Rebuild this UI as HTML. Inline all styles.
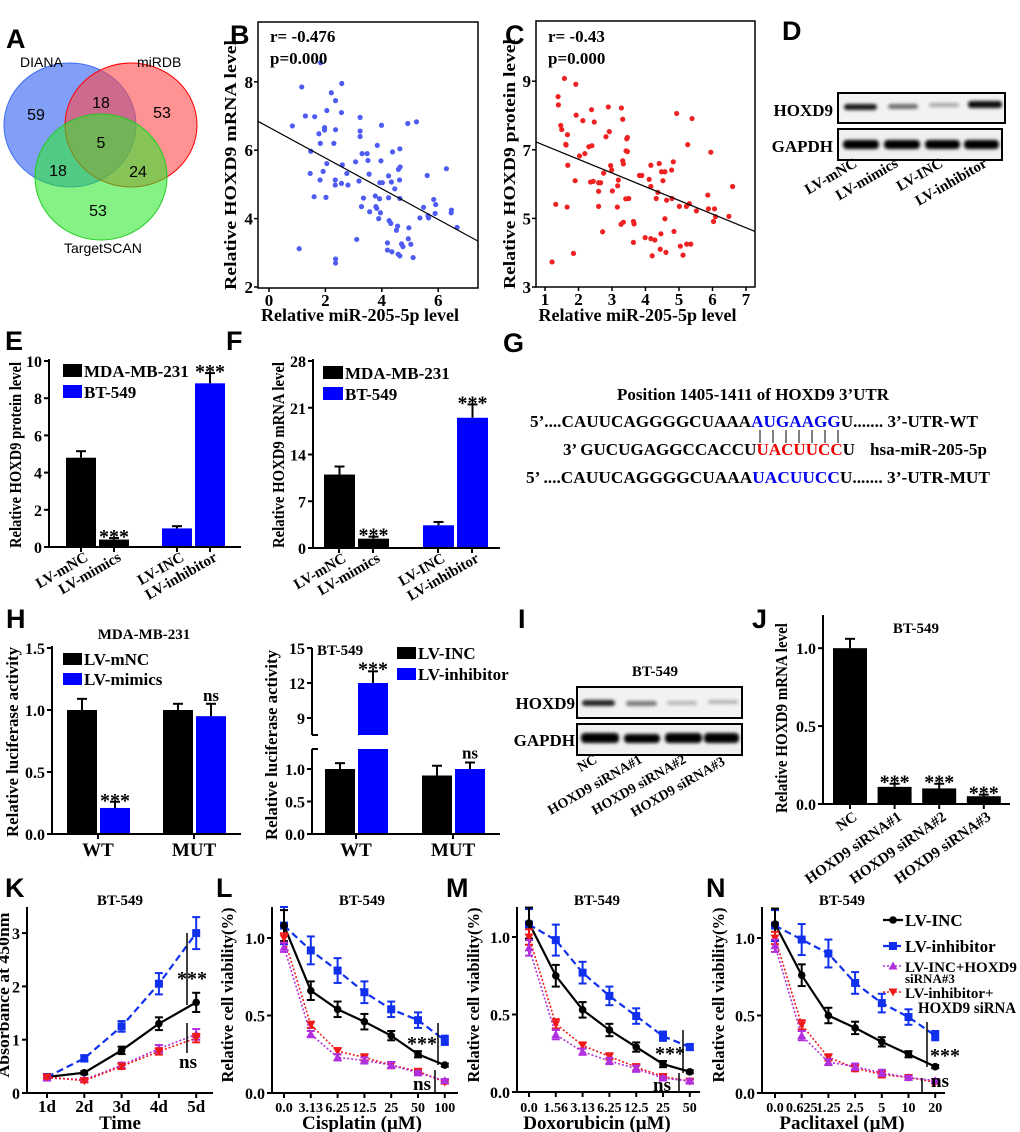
<!DOCTYPE html>
<html><head><meta charset="utf-8">
<style>
html,body{margin:0;padding:0;background:#fff;}
svg{display:block;}
text{font-family:"Liberation Serif",serif;font-weight:bold;fill:#000;}
text.sans{font-family:"Liberation Sans",sans-serif;}
text.norm{font-weight:normal;}
text.plab{font-family:"Liberation Sans",sans-serif;font-size:27px;font-weight:bold;}
</style></head>
<body>
<svg id="fig" width="1020" height="1132" viewBox="0 0 1020 1132">
<defs><filter id="blur" x="-20%" y="-50%" width="140%" height="200%"><feGaussianBlur stdDeviation="1.6"/></filter></defs>
<g>
<text class="plab" x="6" y="48">A</text>
<text class="plab" x="230" y="44">B</text>
<text class="plab" x="505" y="44">C</text>
<text class="plab" x="782" y="40">D</text>
<text class="plab" x="5" y="350">E</text>
<text class="plab" x="226" y="350">F</text>
<text class="plab" x="503" y="352">G</text>
<text class="plab" x="6" y="628">H</text>
<text class="plab" x="518" y="628">I</text>
<text class="plab" x="752" y="628">J</text>
<text class="plab" x="5" y="897">K</text>
<text class="plab" x="216" y="897">L</text>
<text class="plab" x="446" y="897">M</text>
<text class="plab" x="706" y="897">N</text>
</g>
<g>
<ellipse cx="70" cy="125" rx="66" ry="62" fill="#3f6cf5" fill-opacity="0.65" stroke="#3f6cf5" stroke-width="1"/>
<ellipse cx="131" cy="125" rx="66" ry="62" fill="#ff4a4a" fill-opacity="0.6" stroke="#f00" stroke-width="1"/>
<ellipse cx="101" cy="177" rx="66" ry="63" fill="#2ee82e" fill-opacity="0.58" stroke="#2c2" stroke-width="1"/>
<g>
<text class="sans norm" x="20" y="67" font-size="14">DIANA</text>
<text class="sans norm" x="137" y="67" font-size="14">miRDB</text>
<text class="sans norm" x="64" y="253" font-size="14">TargetSCAN</text>
<text class="sans norm" x="36" y="120" font-size="16" text-anchor="middle">59</text>
<text class="sans norm" x="101" y="108" font-size="16" text-anchor="middle">18</text>
<text class="sans norm" x="162" y="118" font-size="16" text-anchor="middle">53</text>
<text class="sans norm" x="101" y="148" font-size="16" text-anchor="middle">5</text>
<text class="sans norm" x="58" y="176" font-size="16" text-anchor="middle">18</text>
<text class="sans norm" x="138" y="177" font-size="16" text-anchor="middle">24</text>
<text class="sans norm" x="98" y="216" font-size="16" text-anchor="middle">53</text>
</g></g>
<g>
<text x="833" y="116" font-size="17" text-anchor="end">HOXD9</text>
<text x="833" y="152" font-size="17" text-anchor="end">GAPDH</text>
<rect x="838" y="93" width="167" height="30" fill="#f2f2f2" stroke="#000" stroke-width="2"/>
<rect x="838" y="129" width="164" height="31" fill="#f0f0f0" stroke="#000" stroke-width="2"/>
<g filter="url(#blur)">
<rect x="844" y="104" width="33" height="6" rx="3" fill="#000" fill-opacity="0.9"/>
<rect x="888" y="104" width="30" height="5" rx="3" fill="#000" fill-opacity="0.55"/>
<rect x="929" y="103" width="30" height="4" rx="2" fill="#000" fill-opacity="0.3"/>
<rect x="968" y="101" width="34" height="7" rx="3" fill="#000" fill-opacity="0.95"/>
<rect x="843" y="140" width="36" height="9" rx="4" fill="#000"/>
<rect x="884" y="140" width="36" height="9" rx="4" fill="#000"/>
<rect x="925" y="140" width="35" height="9" rx="4" fill="#000"/>
<rect x="964" y="140" width="35" height="9" rx="4" fill="#000"/>
</g>
<g font-size="15">
<text transform="translate(858,166) rotate(-30)" text-anchor="end">LV-mNC</text>
<text transform="translate(899,166) rotate(-30)" text-anchor="end">LV-mimics</text>
<text transform="translate(944,166) rotate(-30)" text-anchor="end">LV-INC</text>
<text transform="translate(988,166) rotate(-30)" text-anchor="end">LV-inhibitor</text>
</g></g>
<g font-size="17">
<text x="753" y="400" text-anchor="middle" textLength="272" lengthAdjust="spacingAndGlyphs">Position 1405-1411 of HOXD9 3’UTR</text>
<text x="530" y="427" textLength="448" lengthAdjust="spacingAndGlyphs">5’....CAUUCAGGGGCUAAA<tspan fill="#0000ee">AUGAAGG</tspan>U....... 3’-UTR-WT</text>
<g stroke="#000" stroke-width="1">
<line x1="760" y1="430" x2="760" y2="443"/><line x1="773" y1="430" x2="773" y2="443"/><line x1="786" y1="430" x2="786" y2="443"/><line x1="799" y1="430" x2="799" y2="443"/><line x1="812" y1="430" x2="812" y2="443"/><line x1="825" y1="430" x2="825" y2="443"/><line x1="838" y1="430" x2="838" y2="443"/>
</g>
<text x="563" y="455" textLength="292" lengthAdjust="spacingAndGlyphs">3’ GUCUGAGGCCACCU<tspan fill="#ee0000">UACUUCC</tspan>U</text>
<text x="870" y="455" textLength="117" lengthAdjust="spacingAndGlyphs">hsa-miR-205-5p</text>
<text x="526" y="483" textLength="464" lengthAdjust="spacingAndGlyphs">5’  ....CAUUCAGGGGCUAAA<tspan fill="#0000ee">UACUUCC</tspan>U....... 3’-UTR-MUT</text>
</g>
<g>
<text x="655" y="676" font-size="15" text-anchor="middle">BT-549</text>
<text x="575" y="709" font-size="17" text-anchor="end">HOXD9</text>
<text x="575" y="746" font-size="17" text-anchor="end">GAPDH</text>
<rect x="577" y="687" width="165" height="31" fill="#f2f2f2" stroke="#000" stroke-width="2"/>
<rect x="577" y="724" width="165" height="31" fill="#f0f0f0" stroke="#000" stroke-width="2"/>
<g filter="url(#blur)">
<rect x="582" y="700" width="33" height="6" rx="3" fill="#000" fill-opacity="0.85"/>
<rect x="626" y="701" width="31" height="5" rx="3" fill="#000" fill-opacity="0.5"/>
<rect x="667" y="701" width="30" height="4" rx="2" fill="#000" fill-opacity="0.25"/>
<rect x="708" y="700" width="30" height="4" rx="2" fill="#000" fill-opacity="0.25"/>
<rect x="581" y="733" width="38" height="10" rx="4" fill="#000"/>
<rect x="624" y="734" width="36" height="9" rx="4" fill="#000"/>
<rect x="665" y="733" width="37" height="10" rx="4" fill="#000"/>
<rect x="704" y="733" width="35" height="10" rx="4" fill="#000"/>
</g>
<g font-size="14">
<text transform="translate(598,762) rotate(-30)" text-anchor="end">NC</text>
<text transform="translate(643,762) rotate(-30)" text-anchor="end">HOXD9 siRNA#1</text>
<text transform="translate(687,762) rotate(-30)" text-anchor="end">HOXD9 siRNA#2</text>
<text transform="translate(726,764) rotate(-30)" text-anchor="end">HOXD9 siRNA#3</text>
</g></g>
<g id="charts"></g>
</svg>
<script>
// ---------- DATA ----------
const bX=[0.83,1.16,1.29,1.62,1.83,2.21,2.36,2.58,2.05,1.77,1.97,1.97,2.36,1.82,2.30,1.48,2.57,1.46,1.92,2.05,1.81,2.35,2.35,2.57,2.80,2.76,2.60,1.60,2.02,1.07,2.36,2.36,3.11,3.07,3.23,3.23,3.23,3.30,3.48,3.51,3.55,3.19,3.35,3.28,3.57,3.77,3.79,3.82,3.92,3.95,3.89,3.97,3.99,3.84,3.93,4.02,4.24,4.24,4.34,4.38,4.46,4.26,4.32,4.56,4.52,4.64,4.65,4.59,4.63,4.64,4.20,4.20,4.36,4.70,4.75,4.58,4.64,4.96,4.92,5.23,5.03,4.94,5.11,5.35,5.48,5.61,5.64,5.66,5.84,5.91,5.89,6.29,6.47,6.46,6.67];
const bY=[6.71,7.85,7.00,6.98,8.56,7.68,7.45,7.95,7.16,6.48,6.66,6.59,6.60,6.20,6.20,5.97,7.10,5.32,5.38,5.61,5.13,5.13,4.98,5.03,4.98,5.32,5.57,4.64,4.62,3.12,2.82,2.70,3.39,5.66,6.96,6.56,6.40,5.90,5.90,5.70,5.30,5.10,4.60,4.35,4.20,4.66,4.35,4.30,4.58,4.17,4.00,5.69,6.73,6.14,5.05,5.05,5.25,4.61,5.07,5.95,4.87,3.94,3.86,3.78,3.66,6.04,5.51,5.44,5.13,4.59,3.29,3.08,3.03,3.26,3.18,2.96,2.91,3.73,6.78,6.83,3.25,3.41,2.86,4.02,4.33,5.26,4.08,4.02,4.56,4.41,4.15,5.46,4.25,4.17,3.74];
const bFit=[-0.449,6.67];
const bXTicks=[0,2,4,6], bYTicks=[2,4,6,8];
const cX=[1.58,1.92,1.39,1.40,1.47,1.50,1.67,1.62,1.63,1.68,1.90,1.32,1.66,1.93,2.13,2.39,2.47,2.40,2.31,2.19,2.03,2.36,2.44,2.60,2.60,2.66,2.75,2.60,2.72,2.82,2.89,2.92,2.96,2.99,3.01,3.16,3.17,3.19,3.28,3.32,3.32,3.34,3.44,3.46,3.42,3.46,3.41,3.50,3.27,3.34,3.64,3.66,3.64,3.82,3.89,4.11,4.16,4.16,4.32,4.37,4.41,4.48,4.58,4.52,4.58,4.63,4.79,4.83,4.78,4.93,5.01,5.22,5.26,5.31,5.39,5.52,4.46,3.99,4.16,4.28,4.44,4.61,4.85,5.04,5.12,5.23,5.35,4.20,5.86,5.95,5.88,6.03,6.06,6.09,6.49,6.60,1.85,1.21];
const cY=[9.08,8.91,8.55,8.31,7.71,7.59,7.44,7.16,7.14,6.55,6.10,5.41,5.33,8.01,7.85,8.17,7.81,7.12,7.09,6.89,6.82,6.06,6.08,5.79,6.04,6.04,6.32,5.35,4.61,7.38,8.25,7.53,6.54,6.41,5.80,5.33,5.95,6.12,8.22,7.89,6.68,6.59,7.32,7.36,6.97,6.95,5.57,5.58,4.83,4.89,4.91,4.84,4.30,6.25,6.25,6.14,6.55,5.93,5.58,5.76,6.60,6.36,6.36,6.10,4.99,5.53,5.58,6.65,6.41,8.06,5.35,5.35,7.15,5.43,7.91,5.22,4.55,4.44,4.41,4.37,4.10,4.01,4.62,4.19,3.93,4.25,4.25,3.91,5.68,6.93,5.28,4.91,5.28,5.05,5.06,5.93,3.98,3.73];
const cFit=[-0.399,7.52];
const cXTicks=[1,2,3,4,5,6,7], cYTicks=[3,5,7,9];

const eCats=['LV-mNC','LV-mimics','LV-INC','LV-inhibitor'];
const eVals=[4.8,0.4,1.0,8.8];
const eErr=[0.35,0.08,0.12,0.55];
const eSig=['','***','','***'];
const eTicks=[0,2,4,6,8,10];
const fVals=[11.0,1.4,3.4,19.5];
const fErr=[1.2,0.3,0.5,2.0];
const fSig=['','***','','***'];
const fTicks=[0,7,14,21,28];

const hCats=['WT','MUT'];
const hLeftVals=[1.0,0.21,1.0,0.95];
const hLeftErr=[0.09,0.05,0.05,0.1];
const hLeftSig=['','***','','ns'];
const hLeftTicks=[0,0.5,1.0,1.5];
const hRightVals=[1.0,12.0,0.9,1.0];
const hRightErr=[0.09,1.0,0.15,0.1];
const hRightSig=['','***','','ns'];
const hRightLowTicks=[0,0.5,1.0];
const hRightHighTicks=[9,12,15];

const jCats=['NC','HOXD9 siRNA#1','HOXD9 siRNA#2','HOXD9 siRNA#3'];
const jVals=[1.0,0.11,0.10,0.05];
const jErr=[0.06,0.02,0.03,0.01];
const jSig=['','***','***','***'];
const jTicks=[0,0.5,1.0];

const kCats=['1d','2d','3d','4d','5d'];
const kInc=[0.30,0.38,0.80,1.30,1.70];
const kIncErr=[0.03,0.03,0.07,0.12,0.18];
const kInh=[0.30,0.65,1.25,2.05,3.00];
const kInhErr=[0.03,0.06,0.10,0.20,0.30];
const kIncSi=[0.28,0.25,0.52,0.83,1.10];
const kIncSiErr=[0.03,0.03,0.05,0.07,0.10];
const kInhSi=[0.30,0.23,0.50,0.78,1.03];
const kInhSiErr=[0.03,0.03,0.05,0.06,0.08];
const kTicks=[0,1,2,3];

const lCats=['0.0','3.13','6.25','12.5','25','50','100'];
const lInc=[1.08,0.66,0.54,0.46,0.37,0.25,0.18];
const lIncErr=[0.10,0.06,0.05,0.05,0.03,0.02,0.01];
const lInh=[1.08,0.92,0.79,0.65,0.54,0.47,0.34];
const lInhErr=[0.12,0.09,0.08,0.07,0.05,0.05,0.03];
const lIncSi=[0.94,0.38,0.23,0.21,0.18,0.13,0.08];
const lInhSi=[1.00,0.44,0.27,0.23,0.18,0.14,0.07];
const lSiErr=[0.03,0.02,0.02,0.02,0.02,0.01,0.01];

const mCats=['0.0','1.56','3.13','6.25','12.5','25','50'];
const mInc=[1.09,0.75,0.53,0.40,0.29,0.18,0.13];
const mIncErr=[0.10,0.07,0.05,0.04,0.03,0.02,0.01];
const mInh=[1.08,0.98,0.77,0.62,0.49,0.36,0.29];
const mInhErr=[0.10,0.10,0.07,0.06,0.05,0.03,0.02];
const mIncSi=[0.93,0.37,0.26,0.20,0.15,0.09,0.07];
const mInhSi=[1.00,0.44,0.30,0.23,0.16,0.10,0.07];
const mSiErr=[0.05,0.03,0.02,0.02,0.02,0.01,0.01];

const nCats=['0.0','0.625','1.25','2.5','5','10','20'];
const nInc=[1.09,0.76,0.50,0.42,0.33,0.25,0.17];
const nIncErr=[0.10,0.07,0.05,0.04,0.03,0.02,0.01];
const nInh=[1.08,0.99,0.90,0.71,0.58,0.49,0.37];
const nInhErr=[0.10,0.10,0.09,0.07,0.06,0.05,0.03];
const nIncSi=[0.95,0.37,0.20,0.17,0.13,0.10,0.08];
const nInhSi=[1.00,0.44,0.23,0.16,0.12,0.10,0.07];
const nSiErr=[0.04,0.03,0.02,0.02,0.02,0.01,0.01];
const vTicks=[0,0.5,1.0];
const legendLabels=['LV-INC','LV-inhibitor','LV-INC+HOXD9','LV-inhibitor+'];

// ---------- HELPERS ----------
const NS='http://www.w3.org/2000/svg';
const root=document.getElementById('charts');
function mk(parent,tag,attrs,name,txt){
  const e=document.createElementNS(NS,tag);
  for(const k in attrs) e.setAttribute(k,attrs[k]);
  
  
  if(txt!==undefined) e.textContent=txt;
  parent.appendChild(e);
  return e;
}
function grp(name){ return mk(root,'g',{},name); }
function lin(d0,d1,r0,r1){ return v=>r0+(v-d0)*(r1-r0)/(d1-d0); }
function ln(g,x1,y1,x2,y2,name,extra){ const a=Object.assign({x1,y1,x2,y2,stroke:'#000','stroke-width':2},extra||{}); return mk(g,'line',a,name); }
function txt(g,x,y,s,size,name,anchor,extra){ const a=Object.assign({x,y,'font-size':size,'text-anchor':anchor||'middle'},extra||{}); return mk(g,'text',a,name,s); }
function ylab(g,x,cy,s,len,name){ return mk(g,'text',{transform:`translate(${x},${cy}) rotate(-90)`,'text-anchor':'middle','font-size':17,textLength:len,lengthAdjust:'spacingAndGlyphs'},name,s); }
function yAxis(g,x,top,bottom,ticks,sy,fmt,name){
  ln(g,x,top,x,bottom,name+'-line');
  ticks.forEach(t=>{ const y=sy(t); ln(g,x-5,y,x,y,name+'-tick'); txt(g,x-7,y+6,fmt(t),16,name+'-tick-label','end'); });
}
function errBar(g,x,y1,y2,color,name,w){
  ln(g,x,y1,x,y2,name,{stroke:color,'stroke-width':2});
  ln(g,x-(w||5),y1,x+(w||5),y1,name+'-cap',{stroke:color,'stroke-width':2});
}

// ---------- SCATTER ----------
function scatter(name,box,sx,sy,xs,ys,fit,xt,yt,color,rtxt,xlabel,ylabel,ylx){
  const g=grp(name);
  mk(g,'rect',{x:box[0],y:box[1],width:box[2]-box[0],height:box[3]-box[1],fill:'none',stroke:'#000','stroke-width':1.5},name+'-frame');
  xt.forEach(t=>{ ln(g,sx(t),box[3],sx(t),box[3]+4,name+'-x-tick',{'stroke-width':1.5}); txt(g,sx(t),box[3]+18,String(t),17,name+'-x-tick-label'); });
  yt.forEach(t=>{ ln(g,box[0]-4,sy(t),box[0],sy(t),name+'-y-tick',{'stroke-width':1.5}); txt(g,box[0]-5,sy(t)+6,String(t),17,name+'-y-tick-label','end'); });
  xs.forEach((x,i)=>{ mk(g,'circle',{cx:sx(x),cy:sy(ys[i]),r:2.6,fill:color},name+'-point'); });
  const xa=lin(sx(0),sx(1),0,1);
  const x0=xa(box[0]),x1=xa(box[2]);
  ln(g,box[0],sy(fit[1]+fit[0]*x0),box[2],sy(fit[1]+fit[0]*x1),name+'-regression-line',{'stroke-width':1.2});
  txt(g,box[0]+12,42,rtxt[0],17,name+'-r-value','start');
  txt(g,box[0]+12,64,rtxt[1],17,name+'-p-value','start');
  txt(g,(box[0]+box[2])/2-8,321,xlabel,18,name+'-x-axis-title');
  ylab(g,ylx,(box[1]+box[3])/2+10,ylabel,250,name+'-y-axis-title');
}
scatter('scatter-b',[258,22,478,288],lin(0,1,269,297.2),lin(2,3,287,252.8),bX,bY,bFit,bXTicks,bYTicks,'#4f5cf2',['r= -0.476','p=0.000'],'Relative miR-205-5p level','Relative HOXD9 mRNA level',236);
scatter('scatter-c',[536,21,755,287],lin(0,1,511.5,545),lin(3,4,287,252.7),cX,cY,cFit,cXTicks,cYTicks,'#ee2222',['r= -0.43','p=0.000'],'Relative miR-205-5p level','Relative HOXD9 protein level',515);

// ---------- BAR CHARTS ----------
function barChart(o){
  const g=grp(o.name);
  const sy=lin(0,o.max,o.y0,o.yTop);
  const colors=o.colors;
  o.vals.forEach((v,i)=>{
    const x=o.bx(i);
    mk(g,'rect',{x:x,y:sy(v),width:o.bw,height:o.y0-sy(v),fill:colors[i]},o.name+'-bar-'+i);
    errBar(g,x+o.bw/2,sy(v+o.errs[i]),sy(v),'#000',o.name+'-error-bar',5);
    if(o.sig[i]) txt(g,x+o.bw/2,sy(v+o.errs[i])-3+(o.sig[i]==='***'?8:0),o.sig[i],o.sig[i]==='***'?20:17,o.name+'-significance');
  });
  yAxis(g,o.ax,o.yTop-2,o.y0,o.ticks,sy,o.fmt,o.name+'-y-axis');
  ln(g,o.ax,o.y0,o.xEnd,o.y0,o.name+'-x-axis-line');
  return {g,sy};
}
const fmtInt=t=>String(t), fmt1=t=>t.toFixed(1);
const bxE=i=>66+(i%2)*33+Math.floor(i/2)*96;
const E=barChart({name:'bar-chart-e',ax:49,xEnd:241,y0:547,yTop:361,max:10,ticks:eTicks,fmt:fmtInt,vals:eVals,errs:eErr,sig:eSig,bx:bxE,bw:30,colors:['#000','#000','#0000ff','#0000ff']});
eCats.forEach((c,i)=>{ const x=bxE(i)+15; ln(E.g,x,547,x,552,'bar-chart-e-x-tick'); mk(E.g,'text',{transform:`translate(${x+8},${560}) rotate(-30)`,'text-anchor':'end','font-size':15},'bar-chart-e-x-label',c); });
ylab(E.g,21,455,'Relative HOXD9 protein level',186,'bar-chart-e-y-axis-title');
mk(E.g,'rect',{x:63,y:364,width:19,height:13,fill:'#000'},'legend-e-mda-swatch');
txt(E.g,84,377,'MDA-MB-231',17,'legend-e-mda-label','start');
mk(E.g,'rect',{x:63,y:385,width:19,height:13,fill:'#0000ff'},'legend-e-bt549-swatch');
txt(E.g,84,398,'BT-549',17,'legend-e-bt549-label','start');

const bxF=i=>324+(i%2)*34+Math.floor(i/2)*99;
const F=barChart({name:'bar-chart-f',ax:313,xEnd:500,y0:548,yTop:361,max:28,ticks:fTicks,fmt:fmtInt,vals:fVals,errs:fErr,sig:fSig,bx:bxF,bw:31,colors:['#000','#000','#0000ff','#0000ff']});
eCats.forEach((c,i)=>{ const x=bxF(i)+15; ln(F.g,x,548,x,553,'bar-chart-f-x-tick'); mk(F.g,'text',{transform:`translate(${x+8},${561}) rotate(-30)`,'text-anchor':'end','font-size':15},'bar-chart-f-x-label',c); });
ylab(F.g,284,455,'Relative HOXD9 mRNA level',186,'bar-chart-f-y-axis-title');
mk(F.g,'rect',{x:323,y:366,width:20,height:13,fill:'#000'},'legend-f-mda-swatch');
txt(F.g,345,379,'MDA-MB-231',17,'legend-f-mda-label','start');
mk(F.g,'rect',{x:323,y:387,width:20,height:13,fill:'#0000ff'},'legend-f-bt549-swatch');
txt(F.g,345,400,'BT-549',17,'legend-f-bt549-label','start');

const bxH=i=>67+(i%2)*33+Math.floor(i/2)*96;
const H1=barChart({name:'bar-chart-h-left',ax:52,xEnd:241,y0:834,yTop:648,max:1.5,ticks:hLeftTicks,fmt:fmt1,vals:hLeftVals,errs:hLeftErr,sig:hLeftSig,bx:bxH,bw:30,colors:['#000','#0000ff','#000','#0000ff']});
hCats.forEach((c,i)=>{ const x=bxH(i*2)+31; ln(H1.g,x,834,x,839,'bar-chart-h-left-x-tick'); txt(H1.g,x,856,c,19,'bar-chart-h-left-x-label'); });
txt(H1.g,144,639,'MDA-MB-231',15,'bar-chart-h-left-title');
ylab(H1.g,18,742,'Relative luciferase activity',190,'bar-chart-h-left-y-axis-title');
mk(H1.g,'rect',{x:63,y:653,width:19,height:12,fill:'#000'},'legend-h-left-mnc-swatch');
txt(H1.g,84,665,'LV-mNC',17,'legend-h-left-mnc-label','start');
mk(H1.g,'rect',{x:63,y:673,width:19,height:12,fill:'#0000ff'},'legend-h-left-mimics-swatch');
txt(H1.g,84,685,'LV-mimics',17,'legend-h-left-mimics-label','start');

(function(){
  const name='bar-chart-h-right';
  const g=grp(name);
  const low=lin(0,1,834,769), high=lin(12,15,683,648);
  const lowTop=749, highBot=735;
  const bx=i=>325+(i%2)*33+Math.floor(i/2)*97;
  const colors=['#000','#0000ff','#000','#0000ff'];
  hRightVals.forEach((v,i)=>{
    const x=bx(i), w=30;
    if(v<=1.3){
      mk(g,'rect',{x:x,y:low(v),width:w,height:834-low(v),fill:colors[i]},name+'-bar-'+i);
      errBar(g,x+w/2,low(v+hRightErr[i]),low(v),'#000',name+'-error-bar',5);
      if(hRightSig[i]) txt(g,x+w/2,low(v+hRightErr[i])-4,hRightSig[i],17,name+'-significance');
    } else {
      mk(g,'rect',{x:x,y:lowTop,width:w,height:834-lowTop,fill:colors[i]},name+'-bar-'+i+'-lower');
      mk(g,'rect',{x:x,y:high(v),width:w,height:highBot-high(v),fill:colors[i]},name+'-bar-'+i+'-upper');
      errBar(g,x+w/2,high(v+hRightErr[i]),high(v),'#000',name+'-error-bar',5);
      if(hRightSig[i]) txt(g,x+w/2,high(v+hRightErr[i])+4,hRightSig[i],20,name+'-significance');
    }
  });
  ln(g,312,lowTop,312,834,name+'-y-axis-lower');
  ln(g,312,648,312,highBot,name+'-y-axis-upper');
  ln(g,312,highBot,318,highBot,name+'-break-mark');
  ln(g,312,lowTop,318,lowTop,name+'-break-mark');
  hRightLowTicks.forEach(t=>{ ln(g,307,low(t),312,low(t),name+'-tick'); txt(g,305,low(t)+6,t.toFixed(1),16,name+'-tick-label','end'); });
  hRightHighTicks.forEach(t=>{ ln(g,307,high(t),312,high(t),name+'-tick'); txt(g,305,high(t)+6,String(t),16,name+'-tick-label','end'); });
  ln(g,312,834,500,834,name+'-x-axis-line');
  hCats.forEach((c,i)=>{ const x=bx(i*2)+31; ln(g,x,834,x,839,name+'-x-tick'); txt(g,x,856,c,19,name+'-x-label'); });
  txt(g,317,655,'BT-549',15,name+'-title','start');
  ylab(g,277,745,'Relative luciferase activity',190,name+'-y-axis-title');
  mk(g,'rect',{x:397,y:647,width:19,height:12,fill:'#000'},'legend-h-right-inc-swatch');
  txt(g,418,659,'LV-INC',17,'legend-h-right-inc-label','start');
  mk(g,'rect',{x:397,y:668,width:19,height:12,fill:'#0000ff'},'legend-h-right-inhibitor-swatch');
  txt(g,418,680,'LV-inhibitor',17,'legend-h-right-inhibitor-label','start');
})();

const bxJ=i=>833+i*44.6;
const J=barChart({name:'bar-chart-j',ax:823,xEnd:1010,y0:804,yTop:617,max:1.2,ticks:jTicks,fmt:fmt1,vals:jVals,errs:jErr,sig:jSig,bx:bxJ,bw:34,colors:['#000','#000','#000','#000']});
jCats.forEach((c,i)=>{ const x=bxJ(i)+17; ln(J.g,x,804,x,809,'bar-chart-j-x-tick'); mk(J.g,'text',{transform:`translate(${x+8},${819}) rotate(-35)`,'text-anchor':'end','font-size':15},'bar-chart-j-x-label',c); });
txt(J.g,916,633,'BT-549',15,'bar-chart-j-title');
ylab(J.g,787,718,'Relative HOXD9 mRNA level',190,'bar-chart-j-y-axis-title');

// ---------- LINE CHARTS ----------
const STY={
  inc:{color:'#000',dash:'',w:2.2,marker:'circle'},
  inh:{color:'#1030ee',dash:'7,4',w:2.2,marker:'square'},
  incSi:{color:'#b030e0',dash:'2,2',w:1.6,marker:'tri'},
  inhSi:{color:'#ee1a1a',dash:'2,2',w:1.6,marker:'itri'}
};
function marker(g,x,y,s,name){
  if(s.marker==='circle') return mk(g,'circle',{cx:x,cy:y,r:3.8,fill:s.color},name);
  if(s.marker==='square') return mk(g,'rect',{x:x-4,y:y-4,width:8,height:8,fill:s.color},name);
  if(s.marker==='tri') return mk(g,'path',{d:`M${x},${y-4.5}L${x+4.5},${y+3.5}L${x-4.5},${y+3.5}Z`,fill:s.color},name);
  return mk(g,'path',{d:`M${x},${y+4.5}L${x+4.5},${y-3.5}L${x-4.5},${y-3.5}Z`,fill:s.color},name);
}
function lineChart(o){
  const g=grp(o.name);
  const sy=lin(0,1,o.y0,o.y0-o.unit);
  const sx=i=>o.x0+i*o.step;
  o.series.forEach(se=>{
    const s=STY[se.key];
    const pts=se.vals.map((v,i)=>sx(i)+','+sy(v)).join(' ');
    mk(g,'polyline',{points:pts,fill:'none',stroke:s.color,'stroke-width':s.w,'stroke-dasharray':s.dash},o.name+'-line-'+se.key);
    se.vals.forEach((v,i)=>{
      errBar(g,sx(i),sy(v+se.err[i]),sy(v-se.err[i]),s.color,o.name+'-error-'+se.key,4);
      ln(g,sx(i)-4,sy(v-se.err[i]),sx(i)+4,sy(v-se.err[i]),o.name+'-error-cap-'+se.key,{stroke:s.color,'stroke-width':2});
      marker(g,sx(i),sy(v),s,o.name+'-point-'+se.key);
    });
  });
  yAxis(g,o.ax,907,o.y0,o.ticks,sy,o.fmt,o.name+'-y-axis');
  ln(g,o.ax,o.y0,o.xEnd,o.y0,o.name+'-x-axis-line');
  o.cats.forEach((c,i)=>{ ln(g,sx(i),o.y0,sx(i),o.y0+5,o.name+'-x-tick'); txt(g,sx(i),1112,c,o.catSize||17,o.name+'-x-tick-label'); });
  txt(g,o.titleX,905,'BT-549',15,o.name+'-title');
  txt(g,o.titleX,1129,o.xlabel,19,o.name+'-x-axis-title');
  ylab(g,o.ylx,995,o.ylabel,o.yl||175,o.name+'-y-axis-title');
  const s=o.sig;
  ln(g,s.x1,s.a1,s.x1,s.b1,o.name+'-sig-bracket-stars',{'stroke-width':1.5});
  txt(g,s.tx1,s.ty1,'***',20,o.name+'-sig-stars');
  ln(g,s.x2,s.a2,s.x2,s.b2,o.name+'-sig-bracket-ns',{'stroke-width':1.5});
  txt(g,s.tx2,s.ty2,'ns',19,o.name+'-sig-ns',s.anchor2||'middle');
  return g;
}
lineChart({name:'line-chart-k',ax:27,xEnd:213,y0:1093,unit:53.3,x0:47,step:37.3,cats:kCats,ticks:kTicks,fmt:fmtInt,titleX:120,xlabel:'Time',ylabel:'Absorbance at 450nm',ylx:9,yl:165,
  series:[{key:'inc',vals:kInc,err:kIncErr},{key:'inh',vals:kInh,err:kInhErr},{key:'incSi',vals:kIncSi,err:kIncSiErr},{key:'inhSi',vals:kInhSi,err:kInhSiErr}],
  sig:{x1:187,a1:933,b1:1005,tx1:192,ty1:985,x2:187,a2:1023,b2:1053,tx2:188,ty2:1068}});
lineChart({name:'line-chart-l',ax:272,xEnd:458,y0:1093,unit:155,x0:284,step:26.8,cats:lCats,ticks:vTicks,fmt:fmt1,titleX:362,xlabel:'Cisplatin (μM)',ylabel:'Relative cell viability(%)',ylx:233,catSize:14,
  series:[{key:'inh',vals:lInh,err:lInhErr},{key:'inc',vals:lInc,err:lIncErr},{key:'inhSi',vals:lInhSi,err:lSiErr},{key:'incSi',vals:lIncSi,err:lSiErr}],
  sig:{x1:438,a1:1023,b1:1065,tx1:422,ty1:1050,x2:435,a2:1070,b2:1093,tx2:422,ty2:1090}});
lineChart({name:'line-chart-m',ax:517,xEnd:700,y0:1092,unit:155,x0:529,step:26.8,cats:mCats,ticks:vTicks,fmt:fmt1,titleX:597,xlabel:'Doxorubicin (μM)',ylabel:'Relative cell viability(%)',ylx:479,catSize:14,
  series:[{key:'inh',vals:mInh,err:mInhErr},{key:'inc',vals:mInc,err:mIncErr},{key:'inhSi',vals:mInhSi,err:mSiErr},{key:'incSi',vals:mIncSi,err:mSiErr}],
  sig:{x1:683,a1:1030,b1:1073,tx1:670,ty1:1060,x2:679,a2:1073,b2:1092,tx2:662,ty2:1091}});
lineChart({name:'line-chart-n',ax:762,xEnd:945,y0:1093,unit:155,x0:775,step:26.7,cats:nCats,ticks:vTicks,fmt:fmt1,titleX:842,xlabel:'Paclitaxel (μM)',ylabel:'Relative cell viability(%)',ylx:724,catSize:14,
  series:[{key:'inh',vals:nInh,err:nInhErr},{key:'inc',vals:nInc,err:nIncErr},{key:'inhSi',vals:nInhSi,err:nSiErr},{key:'incSi',vals:nIncSi,err:nSiErr}],
  sig:{x1:927,a1:1022,b1:1067,tx1:945,ty1:1062,x2:922,a2:1078,b2:1093,tx2:931,ty2:1087,anchor2:'start'}});
(function(){
  const g=grp('legend-n');
  const keys=['inc','inh','incSi','inhSi'];
  const ys=[920,946,966,992];
  keys.forEach((k,i)=>{
    const s=STY[k];
    ln(g,883,ys[i],903,ys[i],'legend-n-line-'+k,{stroke:s.color,'stroke-width':s.w,'stroke-dasharray':s.dash});
    marker(g,893,ys[i],s,'legend-n-marker-'+k);
    txt(g,905,ys[i]+6,legendLabels[i],i<2?17:15,'legend-n-label-'+k,'start');
  });
  txt(g,905,983,'siRNA#3',13,'legend-n-label-incsi-line2','start');
  txt(g,918,1013,'HOXD9 siRNA',16,'legend-n-label-inhsi-line2','start',{textLength:98,lengthAdjust:'spacingAndGlyphs'});
})();
</script>
</body></html>
